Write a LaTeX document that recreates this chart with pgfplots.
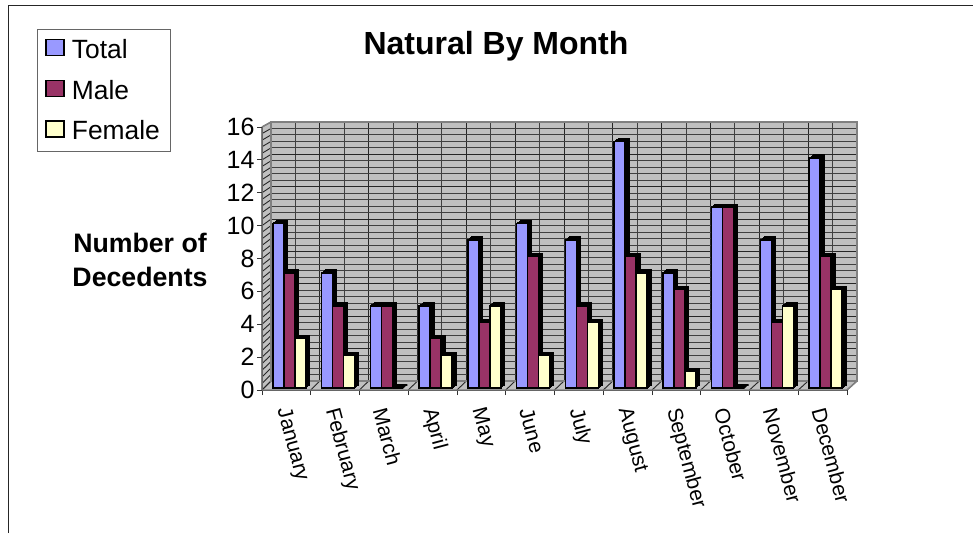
\documentclass[border=0pt]{standalone}
\usepackage{fontspec}
\setmainfont{Liberation Sans}
\usepackage{pgfplots}
\usepackage{pgfplotstable}
\pgfplotsset{compat=1.18}

\definecolor{cTotal}{HTML}{9999FF}
\definecolor{cMale}{HTML}{993366}
\definecolor{cFemale}{HTML}{FFFFCC}
\definecolor{wall}{HTML}{C0C0C0}
\definecolor{wallline}{HTML}{808080}

\pgfplotstableread{
x    Total Male Female
0.5  10    7    3
1.5  7     5    2
2.5  5     5    0
3.5  5     3    2
4.5  9     4    5
5.5  10    8    2
6.5  9     5    4
7.5  15    8    7
8.5  7     6    1
9.5  11    11   0
10.5 9     4    5
11.5 14    8    6
}\decedents

\newcommand{\fs}[1]{\fontsize{#1}{#1}\selectfont}

% extruded side of the bars, then the front face
\newcommand{\barseries}[4]{%
  \pgfplotsinvokeforeach{4,3,2,1}{%
    \addplot[ybar, bar width=11pt, bar shift=#2pt, fill=#3!35!black, draw=black,
      line width=1.2pt, xshift=3pt+##1pt, yshift=2pt+0.75*##1pt, forget plot]
      table[x=x, y=#1] {\decedents};
  }
  \addplot[ybar, bar width=11pt, bar shift=#2pt, fill=#3, draw=black,
    line width=1.5pt, xshift=3pt, yshift=2pt]
    table[x=x, y=#1] {\decedents};
  \addlegendentry{#4}
}

\begin{document}
\begin{tikzpicture}[x=1pt,y=1pt]
\useasboundingbox (0,0) rectangle (973,533);
\fill[white] (0,0) rectangle (973,533);
\draw[line width=1pt, black!85] (8,0) -- (8,527.5) -- (973,527.5);

% left wall and floor
\fill[wall] (262,143) -- (271,152) -- (271,411) -- (262,406) -- cycle;
\fill[wall] (262,143) -- (847,143) -- (857,152) -- (271,152) -- cycle;
\foreach \i in {0,...,40} {
  \draw[line width=0.9pt, black!85] (262,{143+\i*263/40}) -- (271,{152+\i*259/40});
}
\foreach \i in {0,...,12} {
  \draw[line width=0.9pt, black!85] ({262+\i*48.75},143) -- ({271+\i*48.83},152);
}
\draw[wallline, line width=1.5pt] (262,143) -- (847,143) -- (857,152);
\draw[wallline, line width=1.5pt] (262,406) -- (271,411) -- (857,411) -- (857,152) -- (271,152) -- (271,411);
\draw[wallline, line width=1.5pt] (262,143) -- (262,406);

% back wall with its grid
\begin{axis}[
    at={(271pt,152pt)}, anchor=south west,
    scale only axis, width=586pt, height=259pt,
    xmin=0, xmax=12, ymin=0, ymax=16,
    xtick distance=1, ytick distance=2,
    minor x tick num=1, minor y tick num=4,
    xticklabels={}, yticklabels={},
    major tick length=0pt, minor tick length=0pt,
    grid=both,
    major grid style={black!85, line width=1pt},
    minor grid style={black!75, line width=1pt},
    axis background/.style={fill=wall},
    axis line style={wallline, line width=1.5pt},
]
\addplot[draw=none, forget plot] coordinates {(0,0) (12,16)};
\end{axis}

% front plane: ticks, labels and bars
\begin{axis}[
    at={(262pt,143pt)}, anchor=south west,
    scale only axis, width=585pt, height=263pt,
    xmin=0, xmax=12, ymin=0, ymax=16,
    clip=false,
    axis x line*=bottom, axis y line*=left,
    axis line style={black!60, line width=1pt, -},
    xtick={0,...,12}, xticklabels={},
    extra x ticks={0.5,1.5,2.5,3.5,4.5,5.5,6.5,7.5,8.5,9.5,10.5,11.5},
    extra x tick labels={January,February,March,April,May,June,July,August,September,October,November,December},
    extra x tick style={major tick length=0pt,
      xticklabel style={font=\fs{21}, rotate=-75, anchor=west, xshift=13.4pt, yshift=-8.7pt}},
    ytick distance=2,
    tick align=outside,
    major tick length=5pt,
    tick style={black!80, line width=0.8pt},
    yticklabel style={font=\fs{25}, /pgf/number format/assume math mode=true, xshift=1pt},
    legend style={at={(-0.3846,1.3726)}, anchor=north west, draw=black!60, line width=0.8pt,
      font=\fs{26.4}, inner xsep=8pt, inner ysep=8pt, row sep=16pt, legend cell align=left, fill=white},
    legend image code/.code={\draw[#1, line width=1.5pt] (0pt,-8pt) rectangle (18pt,8pt); \path (23pt,0pt);},
]
\barseries{Total}{-11}{cTotal}{Total}
\barseries{Male}{0}{cMale}{Male}
\barseries{Female}{11}{cFemale}{Female}
\end{axis}

\node[font=\bfseries\fs{32}] at (496,487) {Natural By Month};
\node[font=\bfseries\fontsize{26.7}{34}\selectfont, align=center, inner sep=0pt] at (140,273)
  {Number of\\Decedents};
\end{tikzpicture}
\end{document}
